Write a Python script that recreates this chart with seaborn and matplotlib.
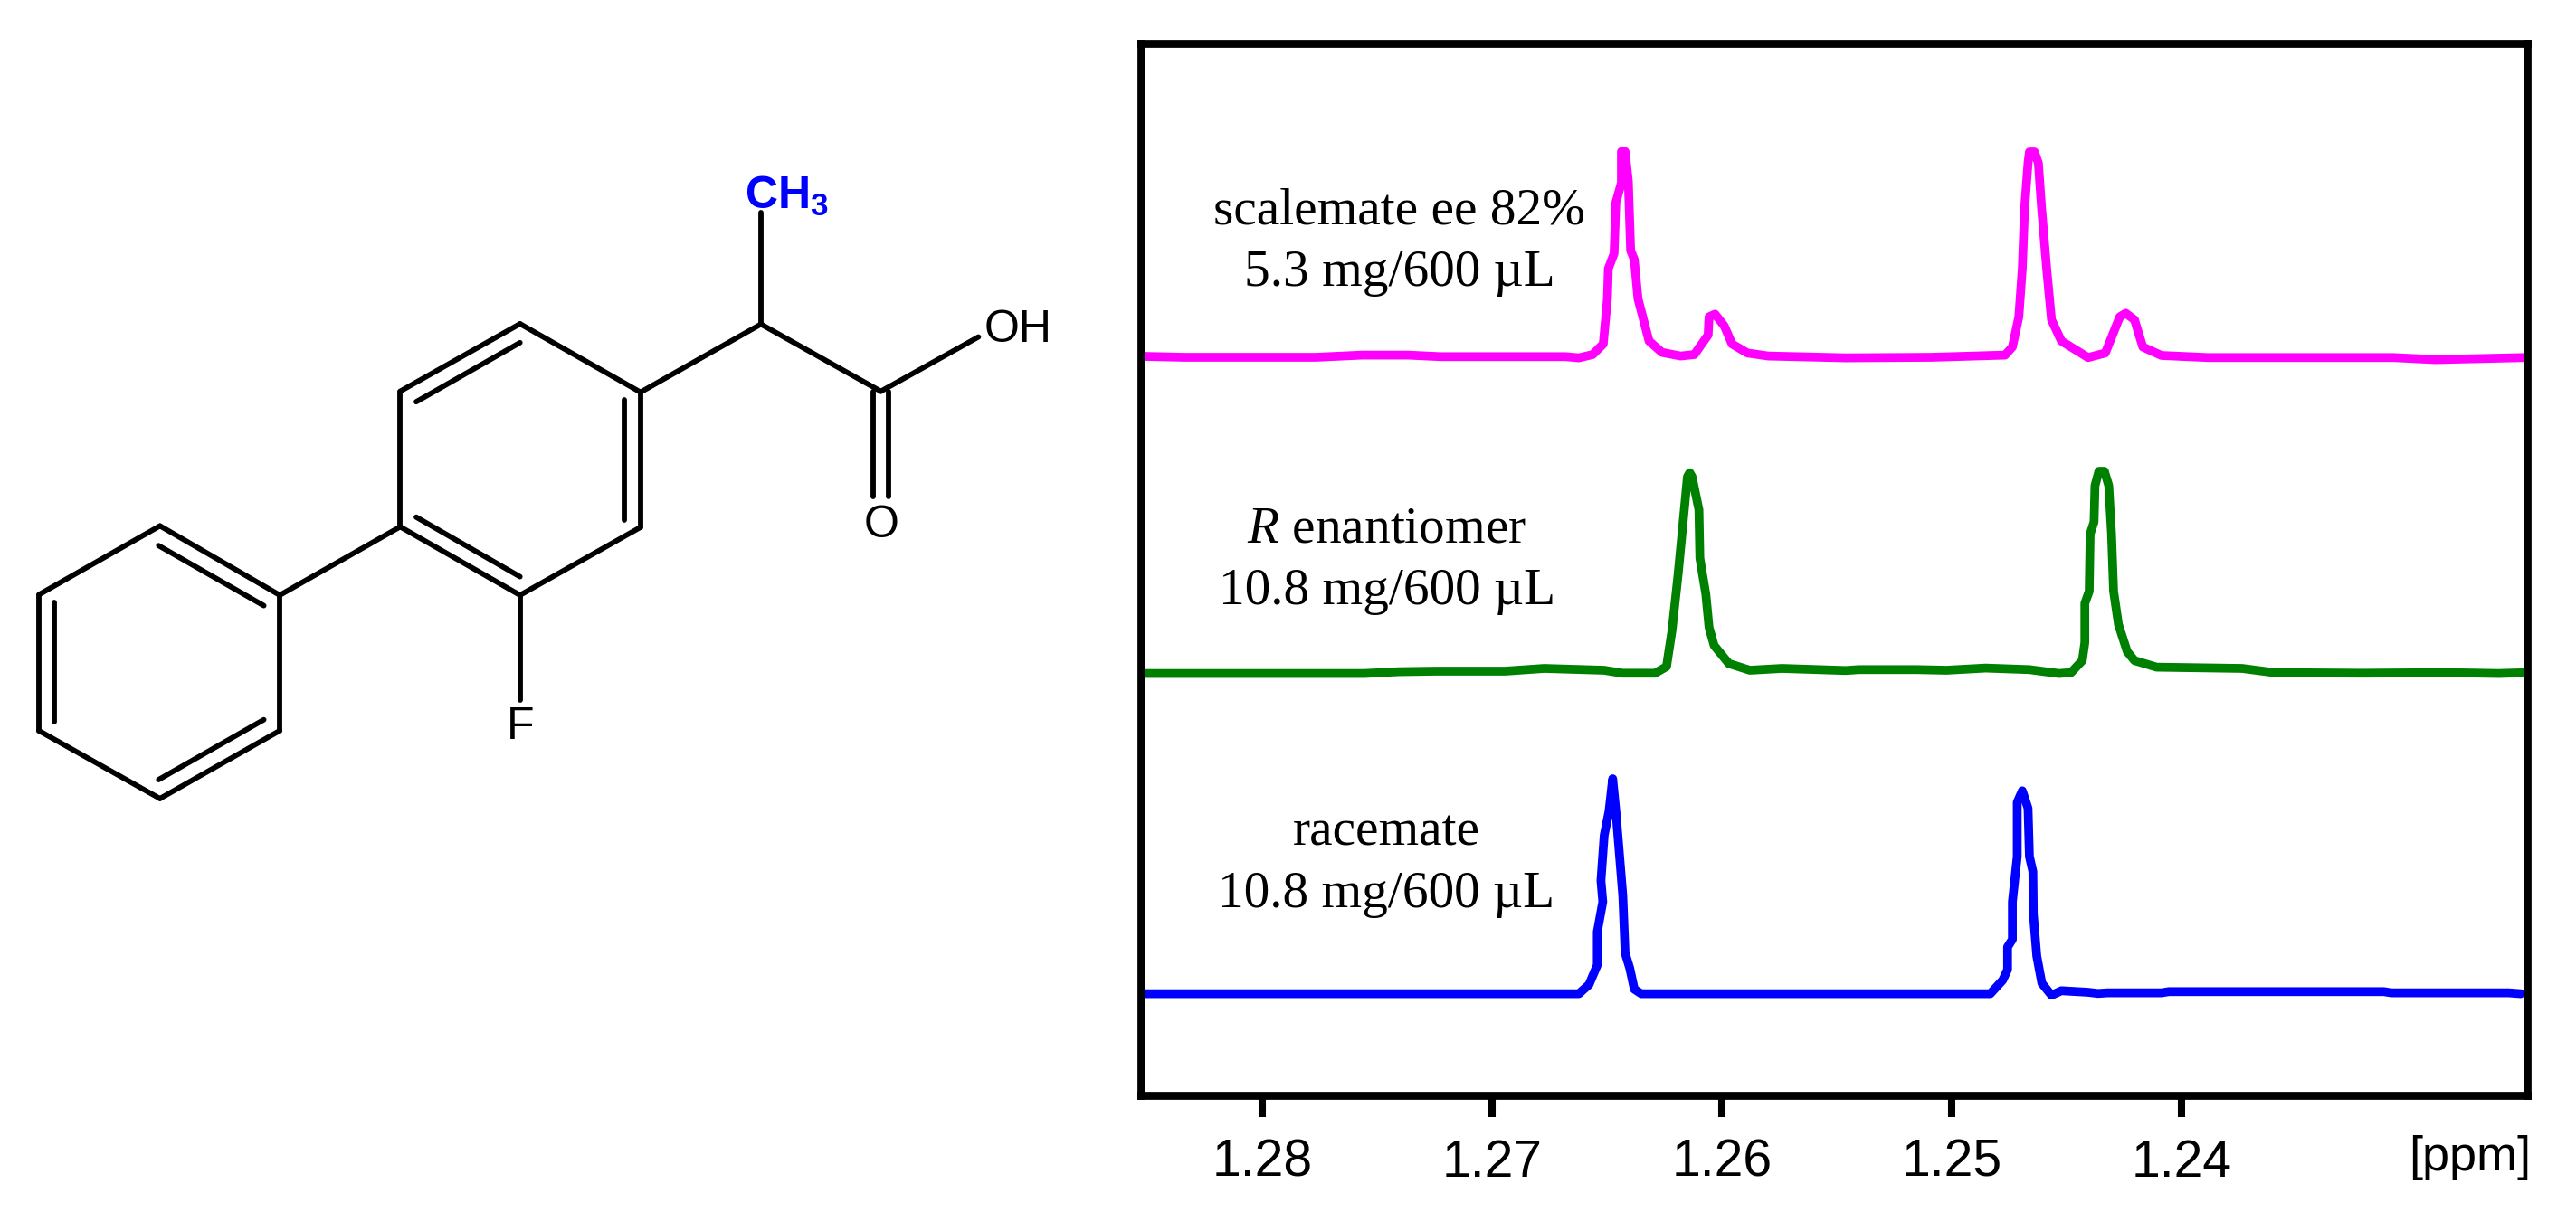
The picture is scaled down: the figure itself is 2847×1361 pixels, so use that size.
import matplotlib
matplotlib.use("Agg")
import matplotlib.pyplot as plt
import seaborn as sns
import pandas as pd

# spectra: shift in ppm, intensity in arbitrary units
scalemate_ppm = [1.28513, 1.28338, 1.27766, 1.27565, 1.27365, 1.27224, 1.26682, 1.26622, 1.26562, 1.26516,
                 1.26498, 1.26494, 1.26469, 1.26461, 1.26437, 1.26437, 1.26421, 1.26407, 1.26397, 1.26381,
                 1.26365, 1.26317, 1.26261, 1.26180, 1.26120, 1.26060, 1.26056, 1.26030, 1.25990, 1.25956,
                 1.25889, 1.25799, 1.25462, 1.25088, 1.24769, 1.24737, 1.24709, 1.24694, 1.24684, 1.24669,
                 1.24663, 1.24641, 1.24624, 1.24610, 1.24588, 1.24567, 1.24524, 1.24408, 1.24333, 1.24291,
                 1.24270, 1.24244, 1.24206, 1.24170, 1.24089, 1.23887, 1.23079, 1.22899, 1.22516]
scalemate_int = [817.3, 816.3, 816.3, 818.7, 818.7, 817, 817, 815.7, 819.3, 831,
                 881, 914.3, 931, 987.7, 1009.3, 1043.7, 1043.7, 1011, 934.3, 924.3,
                 881, 834.3, 821.7, 817.7, 819.3, 841, 861, 864, 851, 831,
                 821, 817.7, 815.7, 816.3, 818.7, 827.7, 861, 914.3, 981, 1031,
                 1043.3, 1043.3, 1031, 981, 914.3, 857.7, 834.3, 816, 821, 847.7,
                 861, 865, 857.7, 827.7, 818.3, 816, 816, 813.7, 816]

enantiomer_ppm = [1.28513, 1.27555, 1.27405, 1.27244, 1.26943, 1.26773, 1.26512, 1.26431, 1.26291, 1.26241,
                  1.26217, 1.26190, 1.26150, 1.26140, 1.26130, 1.26100, 1.26096, 1.26070, 1.26056, 1.26034,
                  1.25970, 1.25879, 1.25739, 1.25462, 1.25406, 1.25151, 1.25024, 1.24854, 1.24663, 1.24535,
                  1.24482, 1.24433, 1.24422, 1.24422, 1.24403, 1.24399, 1.24382, 1.24378, 1.24361, 1.24337,
                  1.24318, 1.24306, 1.24297, 1.24276, 1.24238, 1.24206, 1.24110, 1.23738, 1.23600, 1.23217,
                  1.22856, 1.22622, 1.22495]
enantiomer_int = [466.7, 466.7, 468.7, 469.3, 469.3, 472.3, 470.3, 467, 467, 474.3,
                  514.3, 577.7, 684.3, 688.7, 684.3, 647.7, 594.3, 554.3, 517.7, 497.7,
                  477.7, 470.3, 472.3, 470, 471, 471, 470.3, 472.7, 471, 466.7,
                  467.7, 481, 501, 544.3, 557.7, 621, 634.3, 674.3, 690.3, 690.3,
                  674.3, 621, 557.7, 521, 491, 481, 473.7, 472.3, 467.7, 467,
                  467.7, 466.7, 467.7]

racemate_ppm = [1.28526, 1.26622, 1.26578, 1.26542, 1.26542, 1.26518, 1.26526, 1.26512, 1.26491, 1.26475,
                1.26461, 1.26431, 1.26421, 1.26401, 1.26381, 1.26351, 1.25460, 1.24833, 1.24779, 1.24758,
                1.24758, 1.24737, 1.24737, 1.24716, 1.24716, 1.24694, 1.24669, 1.24663, 1.24648, 1.24646,
                1.24631, 1.24609, 1.24567, 1.24524, 1.24408, 1.24365, 1.24323, 1.24089, 1.24057, 1.23122,
                1.23090, 1.22580, 1.22527]
racemate_int = [112.7, 112.7, 122.7, 144.3, 181, 214.3, 237.7, 287.7, 314.3, 350.3,
                314.3, 221, 157.7, 141, 117.7, 112.7, 112.7, 112.7, 127.7, 139.3,
                164.3, 172.7, 214.3, 264.3, 324.3, 337, 317.7, 264.3, 247.7, 201,
                154.3, 124.3, 111, 116, 114.3, 113, 113.7, 113.7, 115, 115,
                113.7, 113.7, 112.7]

tick_values = [1.28, 1.27, 1.26, 1.25, 1.24]
tick_labels = ["1.28", "1.27", "1.26", "1.25", "1.24"]

# flurbiprofen skeleton, pixel positions of the bond ends
bond_x0 = [176.8, 309.2, 309.2, 176.8, 42.9, 42.9, 309.2, 442.3, 574.7, 707.9, 707.9, 574.7, 442.3,
           707.9, 841, 841, 973.5, 965, 982, 574.7, 175.3, 59.7, 175.3, 460, 689.5, 460]
bond_y0 = [581.4, 658, 807.8, 882.9, 807.8, 657.5, 658, 582.4, 658, 582.9, 433.6, 358, 432.6,
           433.6, 358.4, 358.4, 432.6, 432.6, 432.6, 658, 603.2, 666.2, 862, 444.2, 442.3, 571.7]
bond_x1 = [309.2, 309.2, 176.8, 42.9, 42.9, 176.8, 442.3, 574.7, 707.9, 707.9, 574.7, 442.3, 442.3,
           841, 841, 973.5, 1081.4, 965, 982, 574.7, 291.6, 59.7, 291.6, 574.7, 689.5, 574.7]
bond_y1 = [658, 807.8, 882.9, 807.8, 657.5, 581.4, 582.4, 658, 582.9, 433.6, 358, 432.6, 582.4,
           358.4, 234.8, 432.6, 372.5, 549, 549, 774.3, 669.6, 798, 795.7, 378.8, 574.6, 637.6]

W, H = 2847, 1361

sns.set_theme(style="white")
plt.rcParams["font.family"] = ["Liberation Sans", "DejaVu Sans"]
plt.rcParams["mathtext.fontset"] = "custom"
plt.rcParams["mathtext.rm"] = "Liberation Serif"
plt.rcParams["mathtext.it"] = "Liberation Serif:italic"
plt.rcParams["mathtext.bf"] = "Liberation Sans:bold"

fig = plt.figure(figsize=(W / 100, H / 100), dpi=100, facecolor="white")

# molecule on the left
mol = fig.add_axes([0, 0, 1240 / W, 1])
bonds = pd.DataFrame({
    "x": bond_x0 + bond_x1,
    "y": bond_y0 + bond_y1,
    "bond": list(range(len(bond_x0))) * 2,
})
sns.lineplot(data=bonds, x="x", y="y", units="bond", estimator=None, sort=False,
             color="black", linewidth=4.2, legend=False, ax=mol)
mol.set_xlim(0, 1240)
mol.set_ylim(H, 0)
mol.axis("off")
mol.text(823, 231, r"$\mathbf{CH_3}$", color="#0000FF", fontsize=36, ha="left", va="baseline")
mol.text(1125, 378, "OH", color="black", fontsize=36, ha="center", va="baseline")
mol.text(974, 594, "O", color="black", fontsize=36, ha="center", va="baseline")
mol.text(575, 817, "F", color="black", fontsize=36, ha="center", va="baseline")

# spectra on the right
ax = fig.add_axes([1261 / W, 1 - 1211.3 / H, (2793.5 - 1261) / W, (1211.3 - 48.3) / H])
for ppm, intensity, colour in [(scalemate_ppm, scalemate_int, "#FF00FF"),
                               (enantiomer_ppm, enantiomer_int, "#008000"),
                               (racemate_ppm, racemate_int, "#0000FF")]:
    df = pd.DataFrame({"ppm": ppm, "intensity": intensity})
    sns.lineplot(data=df, x="ppm", y="intensity", estimator=None, sort=False,
                 color=colour, linewidth=7, ax=ax)

ax.set_xlim(1.28526, 1.22497)
ax.set_ylim(0, 1163)
ax.set_xticks(tick_values)
ax.set_xticklabels(tick_labels, fontsize=41)
ax.set_yticks([])
ax.set_xlabel("")
ax.set_ylabel("")
ax.tick_params(axis="x", direction="out", length=17, width=5.8, color="black",
               labelcolor="black", pad=17, bottom=True)
for side in ax.spines:
    ax.spines[side].set_linewidth(6.3)
    ax.spines[side].set_color("black")

serif = dict(family="Liberation Serif", fontsize=41.3, ha="center", va="baseline", color="black")
ax.text(1.27401, 964, "scalemate ee 82%", **serif)
ax.text(1.27401, 895, "5.3 mg/600 µL", **serif)
ax.text(1.27456, 612, r"$\mathit{R}$ enantiomer", **serif)
ax.text(1.27456, 543, "10.8 mg/600 µL", **serif)
ax.text(1.27460, 277, "racemate", **serif)
ax.text(1.27460, 208, "10.8 mg/600 µL", **serif)

fig.text(2730 / W, 1 - 1294 / H, "[ppm]", fontsize=39, ha="center", va="baseline", color="black")

fig.savefig("out.png", dpi=100)
